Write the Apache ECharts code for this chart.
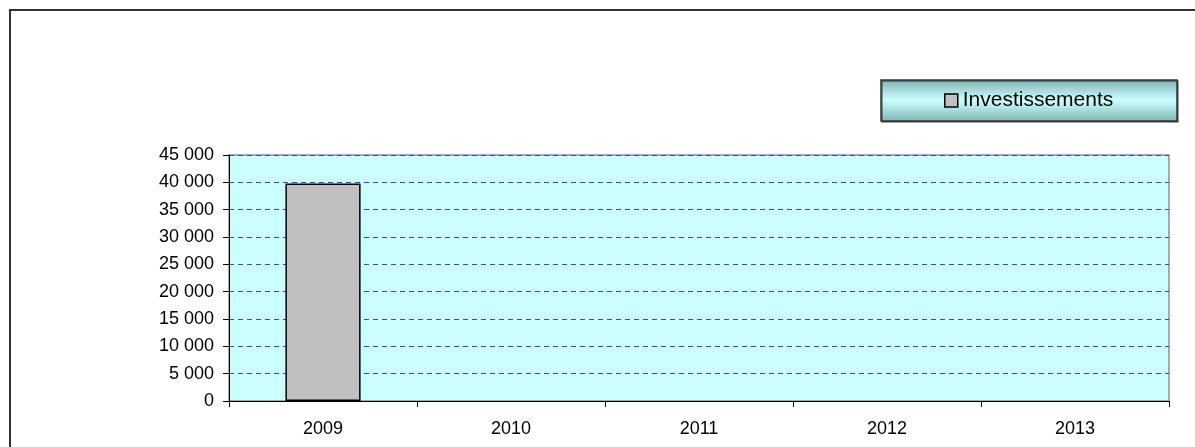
<!DOCTYPE html>
<html>
<head>
<meta charset="utf-8">
<script src="https://cdn.jsdelivr.net/npm/echarts@6/dist/echarts.min.js"></script>
<style>
html,body{margin:0;padding:0;background:#fff;}
#c{width:1195px;height:447px;}
</style>
</head>
<body>
<div id="c"></div>
<script>
const categories = ['2009', '2010', '2011', '2012', '2013'];
const seriesName = 'Investissements';
const investissements = [39800, null, null, null, null];
const yMin = 0, yMax = 45000, yStep = 5000;

const chart = echarts.init(document.getElementById('c'), null, {renderer: 'canvas'});
const fmt = v => String(v).replace(/\B(?=(\d{3})+(?!\d))/g, ' ');
const FONT = 'Arial, "Liberation Sans", sans-serif';
chart.setOption({
  animation: false,
  textStyle: {fontFamily: FONT},
  graphic: [
    {type: 'rect', z: 0, silent: true,
     shape: {x: 10, y: 10, width: 1200, height: 500},
     style: {fill: 'none', stroke: '#333', lineWidth: 2}},
    {type: 'rect', z: 1, silent: true,
     shape: {x: 881, y: 80, width: 296, height: 41},
     style: {
       fill: {type: 'linear', x: 0, y: 0, x2: 0, y2: 1, colorStops: [
         {offset: 0, color: '#7fb3b3'}, {offset: 0.5, color: '#ccffff'}, {offset: 1, color: '#7fb3b3'}]},
       stroke: '#333', lineWidth: 1.5,
       shadowColor: 'rgba(0,0,0,0.5)', shadowOffsetX: 1, shadowOffsetY: 1, shadowBlur: 0
     }}
  ],
  legend: {
    z: 10,
    left: 944, top: 90, padding: 0,
    icon: 'rect', itemWidth: 13, itemHeight: 13, itemGap: 4,
    itemStyle: {borderColor: '#000', borderWidth: 1.5},
    textStyle: {fontSize: 21, color: '#000', fontFamily: FONT},
    data: [seriesName]
  },
  grid: {
    left: 229, right: 26, top: 155, bottom: 46,
    show: true, backgroundColor: '#ccffff', borderColor: '#909090', borderWidth: 1.5
  },
  xAxis: {
    type: 'category', data: categories,
    axisLine: {lineStyle: {color: '#000', width: 1}},
    axisTick: {show: true, alignWithLabel: false, length: 6, lineStyle: {color: '#000'}},
    axisLabel: {color: '#000', fontSize: 18, margin: 19, fontFamily: FONT},
    splitLine: {show: false}
  },
  yAxis: {
    type: 'value', min: yMin, max: yMax, interval: yStep,
    axisLine: {show: true, lineStyle: {color: '#000', width: 1}},
    axisTick: {show: true, length: 6, lineStyle: {color: '#000'}},
    axisLabel: {color: '#000', fontSize: 18, margin: 15, formatter: fmt, fontFamily: FONT},
    splitLine: {show: true, lineStyle: {color: '#2a48f0', type: [5, 4], width: 1}}
  },
  series: [{
    name: seriesName, type: 'bar', data: investissements, barWidth: '40%',
    itemStyle: {color: '#c0c0c0', borderColor: '#000', borderWidth: 1.5}
  }]
});
</script>
</body>
</html>
